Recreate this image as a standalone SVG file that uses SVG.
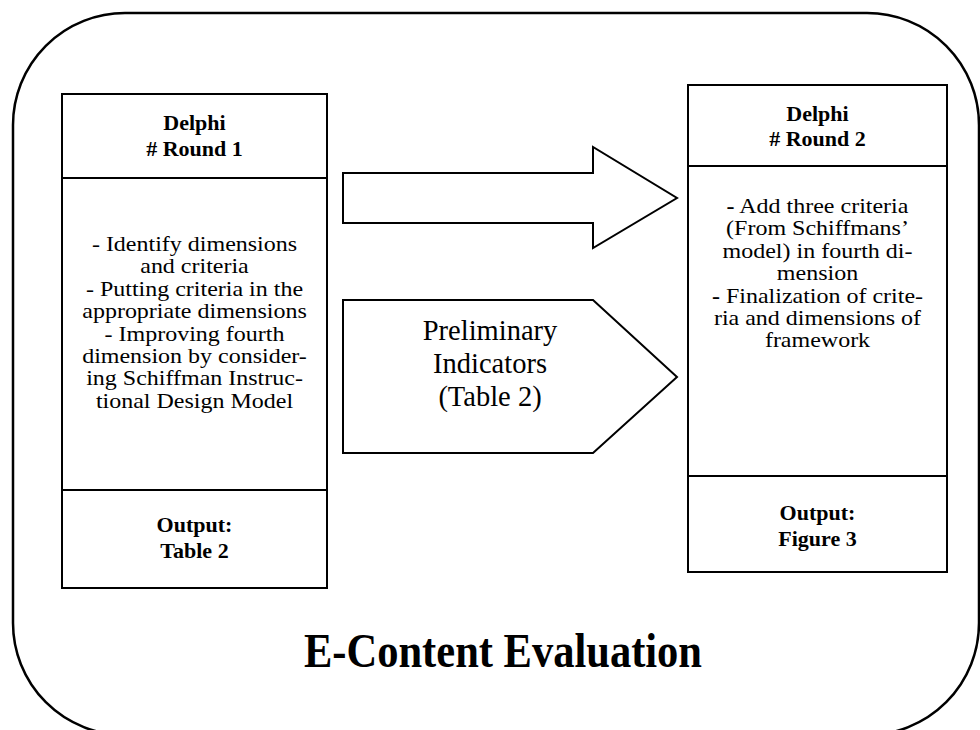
<svg xmlns="http://www.w3.org/2000/svg" width="980" height="730" viewBox="0 0 980 730">
<style>
.ln{fill:#fff;stroke:#000;stroke-width:2}
.dv{stroke:#000;stroke-width:2}
text{font-family:"Liberation Serif","Times New Roman",serif;fill:#000;text-anchor:middle}
.b{font-weight:bold;font-size:22px}
.t{font-size:20px}
.p{font-size:28.5px}
.h{font-weight:bold;font-size:48px}
</style>
<rect width="980" height="730" fill="#fff"/>
<g id="frame">
<rect x="13" y="13" width="966" height="722" rx="112" ry="112" fill="#fff" stroke="#000" stroke-width="2.5"/>
<text class="h" x="503" y="667" textLength="398" lengthAdjust="spacingAndGlyphs">E-Content Evaluation</text>
</g>
<g id="round1">
<rect class="ln" x="62" y="94" width="265" height="494"/>
<line class="dv" x1="62" y1="178" x2="327" y2="178"/>
<line class="dv" x1="62" y1="490" x2="327" y2="490"/>
<text class="b" x="194.5" y="130">Delphi</text>
<text class="b" x="194.5" y="155.5"># Round 1</text>
<g transform="translate(194.5 0) scale(1.2 1)">
<text class="t" x="0" y="251">- Identify dimensions</text>
<text class="t" x="0" y="273.4">and criteria</text>
<text class="t" x="0" y="295.8">- Putting criteria in the</text>
<text class="t" x="0" y="318.2">appropriate dimensions</text>
<text class="t" x="0" y="340.6">- Improving fourth</text>
<text class="t" x="0" y="363">dimension by consider-</text>
<text class="t" x="0" y="385.4">ing Schiffman Instruc-</text>
<text class="t" x="0" y="407.8">tional Design Model</text>
</g>
<text class="b" x="194.5" y="532">Output:</text>
<text class="b" x="194.5" y="558">Table 2</text>
</g>
<g id="round2">
<rect class="ln" x="688" y="85" width="259" height="487"/>
<line class="dv" x1="688" y1="166" x2="947" y2="166"/>
<line class="dv" x1="688" y1="476" x2="947" y2="476"/>
<text class="b" x="817.5" y="120.5">Delphi</text>
<text class="b" x="817.5" y="146"># Round 2</text>
<g transform="translate(817.5 0) scale(1.2 1)">
<text class="t" x="0" y="213"><tspan font-weight="bold">-</tspan> Add three criteria</text>
<text class="t" x="0" y="235.4">(From Schiffmans’</text>
<text class="t" x="0" y="257.8">model) in fourth di-</text>
<text class="t" x="0" y="280.2">mension</text>
<text class="t" x="0" y="302.6"><tspan font-weight="bold">-</tspan> Finalization of crite-</text>
<text class="t" x="0" y="325">ria and dimensions of</text>
<text class="t" x="0" y="347.4">framework</text>
</g>
<text class="b" x="817.5" y="520">Output:</text>
<text class="b" x="817.5" y="545.5">Figure 3</text>
</g>
<g id="connectors">
<polygon id="arrow" class="ln" points="343,173 593,173 593,147 677,198 593,248 593,223 343,223"/>
<g id="indicators">
<polygon class="ln" points="343,300 593,300 677,377 593,453 343,453"/>
<text class="p" x="490" y="340">Preliminary</text>
<text class="p" x="490" y="373">Indicators</text>
<text class="p" x="490" y="406">(Table 2)</text>
</g>
</g>
</svg>
